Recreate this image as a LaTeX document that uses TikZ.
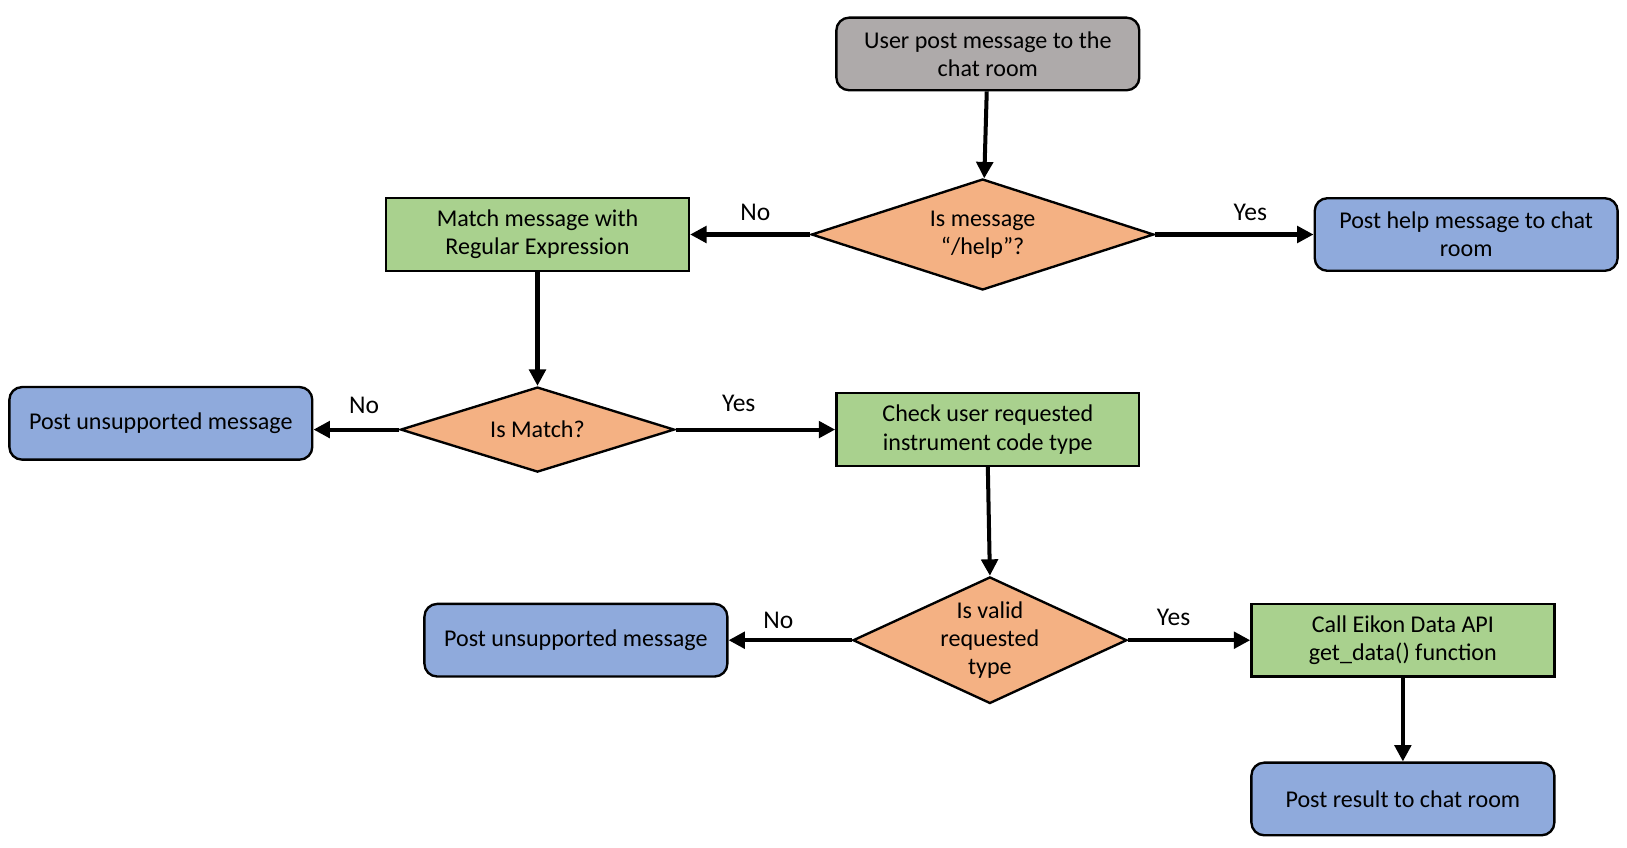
\documentclass[tikz,border=0pt]{standalone}
\usepackage{fontspec}
\setmainfont{Carlito}
\usetikzlibrary{shapes.geometric,arrows.meta}
\definecolor{startgray}{HTML}{AEAAAA}
\definecolor{askorange}{HTML}{F4B183}
\definecolor{workgreen}{HTML}{A9D18E}
\definecolor{postblue}{HTML}{8FAADC}
\tikzset{
  box/.style={draw, line width=1.3pt, minimum width=5.84cm, minimum height=1.4cm,
    align=center, font=\fontsize{13.2}{15.4}\selectfont, inner sep=2pt},
  roundbox/.style={box, rounded corners=7pt},
  ask/.style={draw, line width=1.3pt, diamond, fill=askorange, inner sep=0pt,
    align=center, font=\fontsize{13.2}{15.4}\selectfont},
  answer/.style={font=\fontsize{14}{16}\selectfont},
  flow/.style={line width=2.2pt, -{Triangle[length=9pt,width=9pt]}}
}
\begin{document}
\begin{tikzpicture}[x=0.02cm, y=-0.02cm]
      \useasboundingbox (0,0) rectangle (1568,817);
      \draw
        (952,52) node[roundbox, fill=startgray] (start){User post message to the\\chat room}
        (947,226) node[ask, aspect=3.08, minimum width=6.6cm, minimum height=2.14cm] (help?){Is message\\“/help”?}
        (518,226) node[box, fill=workgreen] (match){Match message with\\Regular Expression}
        (1413,226) node[roundbox, fill=postblue] (help){Post help message to chat\\room}
        (518,414) node[ask, aspect=3.2, minimum width=5.28cm, minimum height=1.64cm] (match?){Is Match?}
        (155,408) node[roundbox, fill=postblue] (unsup1){Post unsupported message}
        (952,414) node[box, fill=workgreen] (check){Check user requested\\instrument code type}
        (954,617) node[ask, aspect=2.16, minimum width=5.28cm, minimum height=2.44cm] (valid?){Is valid\\requested\\type}
        (555,617) node[roundbox, fill=postblue] (unsup2){Post unsupported message}
        (1352,617) node[box, fill=workgreen] (call){Call Eikon Data API\\get\_data() function}
        (1352,770) node[roundbox, fill=postblue] (result){Post result to chat room};
      \begin{scope}[flow]
        \draw (start) to (help?);
        \draw (help?.west) to (match.east |- help?.west);
        \draw (help?.east) to (help.west |- help?.east);
        \draw (match) to (match?);
        \draw (match?.west) to (unsup1.east |- match?.west);
        \draw (match?.east) to (check.west |- match?.east);
        \draw (check.south) to (valid?.north);
        \draw (valid?.west) to (unsup2.east |- valid?.west);
        \draw (valid?.east) to (call.west |- valid?.east);
        \draw (call) to (result);
      \end{scope}
      \draw
        (728,205) node[answer] (no1){No}
        (1205,205) node[answer] (yes1){Yes}
        (351,391) node[answer] (no2){No}
        (712,389) node[answer] (yes2){Yes}
        (750,598) node[answer] (no3){No}
        (1131,595) node[answer] (yes3){Yes};
    \end{tikzpicture}
\end{document}
